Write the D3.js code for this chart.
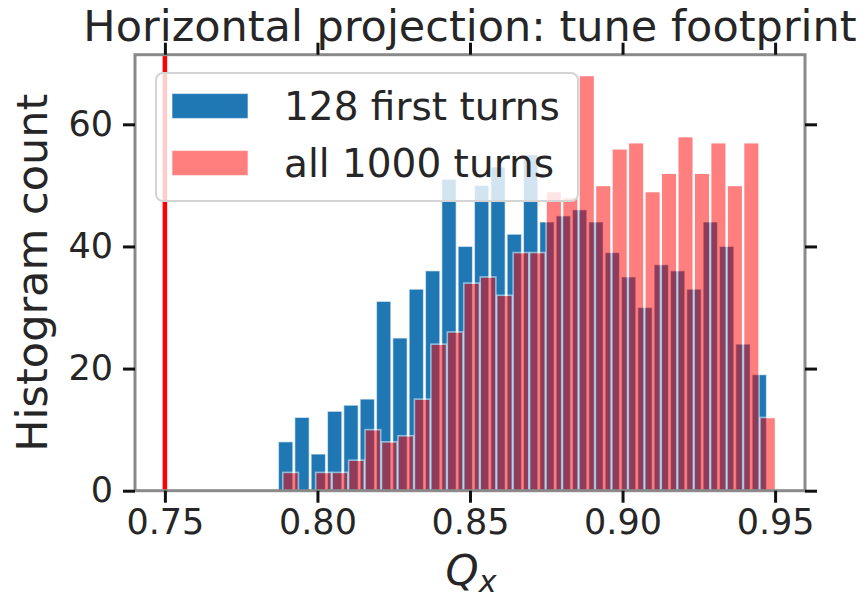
<!DOCTYPE html>
<html>
<head>
<meta charset="utf-8">
<script src="https://cdn.jsdelivr.net/npm/d3@7"></script>
<style>
  html, body { margin: 0; padding: 0; background: #ffffff; }
  svg { display: block; font-family: "DejaVu Sans", sans-serif; }
</style>
</head>
<body>
<svg id="chart" width="868" height="602"></svg>
<script>
// Tune histograms: counts per bin for the two tracking windows
const firstTurnsRange = [0.7869, 0.9475];   // histogram range, 128 first turns
const allTurnsRange   = [0.7885, 0.9503];   // histogram range, all 1000 turns
const firstTurnsCounts = [8, 12, 6, 13, 14, 15, 31, 25, 33, 36, 51, 40, 50, 53, 42,
                          55, 44, 45, 46, 44, 39, 35, 30, 37, 36, 33, 44, 40, 24, 19];
const allTurnsCounts   = [3, 0, 3, 3, 5, 10, 8, 9, 15, 24, 26, 34, 35, 32, 39,
                          39, 49, 48, 68, 50, 56, 57, 49, 52, 58, 52, 57, 50, 57, 12];
const referenceTune = 0.75;
const xTicks = [0.75, 0.80, 0.85, 0.90, 0.95];
const yTicks = [0, 20, 40, 60];
const seriesNames = ["128 first turns", "all 1000 turns"];

const svg = d3.select("#chart");
const plot = { left: 135, right: 805, top: 54.7, bottom: 490.7 };

const x = d3.scaleLinear().domain([0.7402, 0.9598]).range([plot.left, plot.right]);
const y = d3.scaleLinear().domain([0, 71.4]).range([plot.bottom, plot.top]);

function binEdges(range, n) {
  return d3.range(n + 1).map(i => range[0] + i * (range[1] - range[0]) / n);
}
function bins(range, counts) {
  const e = binEdges(range, counts.length);
  return counts.map((c, i) => ({ x0: e[i], x1: e[i + 1], count: c }));
}

const gBars = svg.append("g");

// 128 first turns: opaque blue bars with a thin light outline
gBars.selectAll("rect.first").data(bins(firstTurnsRange, firstTurnsCounts).filter(d => d.count > 0))
  .join("rect").attr("class", "first")
  .attr("x", d => x(d.x0) + 1)
  .attr("width", d => x(d.x1) - x(d.x0) - 2)
  .attr("y", d => y(d.count))
  .attr("height", d => y(0) - y(d.count))
  .attr("fill", "#1f77b4")
  .attr("stroke", "#ffffff").attr("stroke-opacity", 0.55).attr("stroke-width", 1.2);

// all 1000 turns: half-transparent red bars on top
gBars.selectAll("rect.all").data(bins(allTurnsRange, allTurnsCounts).filter(d => d.count > 0))
  .join("rect").attr("class", "all")
  .attr("x", d => x(d.x0) + 0.4)
  .attr("width", d => x(d.x1) - x(d.x0) - 0.8)
  .attr("y", d => y(d.count))
  .attr("height", d => y(0) - y(d.count))
  .attr("fill", "#ff0000")
  .attr("stroke", "#ffffff").attr("stroke-width", 1.6)
  .attr("opacity", 0.5);

// reference tune marker
svg.append("line")
  .attr("x1", x(referenceTune)).attr("x2", x(referenceTune))
  .attr("y1", plot.bottom).attr("y2", plot.top)
  .attr("stroke", "#ff0000").attr("stroke-width", 4.5);

// legend
const lg = svg.append("g");
lg.append("rect")
  .attr("x", 156).attr("y", 73).attr("width", 422).attr("height", 128).attr("rx", 7)
  .attr("fill", "#ffffff").attr("fill-opacity", 0.8)
  .attr("stroke", "#d4d4d4").attr("stroke-width", 2);
const legendItems = [
  { name: seriesNames[0], fill: "#1f77b4", opacity: 1, cy: 106 },
  { name: seriesNames[1], fill: "#ff0000", opacity: 0.5, cy: 163 }
];
legendItems.forEach(it => {
  lg.append("rect")
    .attr("x", 172).attr("y", it.cy - 12.5).attr("width", 76).attr("height", 25)
    .attr("fill", it.fill).attr("opacity", it.opacity)
    .attr("stroke", "#ffffff").attr("stroke-opacity", 0.5).attr("stroke-width", 1.2);
  lg.append("text")
    .attr("x", 284).attr("y", it.cy + 14)
    .attr("font-size", 39).attr("fill", "#262626")
    .text(it.name);
});

// spines
const frame = svg.append("g").attr("fill", "none").attr("stroke", "#8a8a8a").attr("stroke-width", 3);
frame.append("rect")
  .attr("x", plot.left).attr("y", plot.top)
  .attr("width", plot.right - plot.left).attr("height", plot.bottom - plot.top);

// axes
function styleAxis(g) {
  g.select(".domain").remove();
  g.selectAll(".tick line").attr("stroke", "#111111").attr("stroke-width", 3);
  g.selectAll(".tick text").attr("fill", "#262626").attr("font-size", 35)
    .attr("font-family", "DejaVu Sans, sans-serif");
}
svg.append("g").attr("transform", `translate(0,${plot.bottom})`)
  .call(d3.axisBottom(x).tickValues(xTicks).tickFormat(d3.format(".2f")).tickSize(12).tickPadding(6))
  .call(styleAxis)
  .call(g => g.selectAll(".tick text").attr("dy", "0.71em"));
svg.append("g").attr("transform", `translate(0,${plot.top})`)
  .call(d3.axisTop(x).tickValues(xTicks).tickFormat("").tickSize(12))
  .call(styleAxis);
svg.append("g").attr("transform", `translate(${plot.left},0)`)
  .call(d3.axisLeft(y).tickValues(yTicks).tickSize(12).tickPadding(10))
  .call(styleAxis);
svg.append("g").attr("transform", `translate(${plot.right},0)`)
  .call(d3.axisRight(y).tickValues(yTicks).tickFormat("").tickSize(12))
  .call(styleAxis);

// title and axis labels
svg.append("text")
  .attr("x", (plot.left + plot.right) / 2).attr("y", 41)
  .attr("text-anchor", "middle").attr("font-size", 43).attr("fill", "#262626")
  .text("Horizontal projection: tune footprint");

svg.append("text")
  .attr("transform", `translate(47,${(plot.top + plot.bottom) / 2}) rotate(-90)`)
  .attr("text-anchor", "middle").attr("font-size", 43).attr("fill", "#262626")
  .text("Histogram count");

const xl = svg.append("text")
  .attr("x", 471).attr("y", 585)
  .attr("text-anchor", "middle").attr("fill", "#262626").attr("font-style", "italic");
xl.append("tspan").attr("font-size", 42).text("Q");
xl.append("tspan").attr("font-size", 30).attr("dy", 7).text("x");
</script>
</body>
</html>
